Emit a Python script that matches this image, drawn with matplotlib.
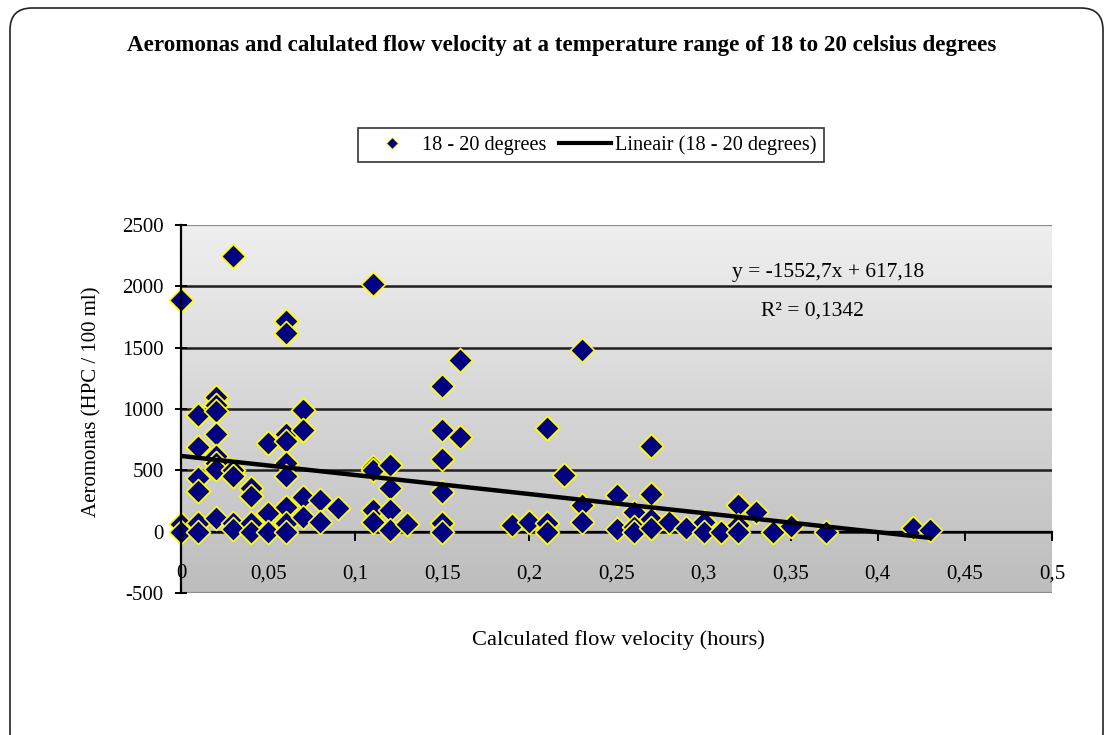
import matplotlib
matplotlib.use("Agg")
import matplotlib.pyplot as plt
import numpy as np
from matplotlib.lines import Line2D
from matplotlib.patches import FancyBboxPatch
from matplotlib.transforms import IdentityTransform

# Calculated flow velocity (hours) vs Aeromonas (HPC / 100 ml)
flow_velocity = [
    0, 0, 0,
    0.01, 0.01, 0.01, 0.01, 0.01, 0.01,
    0.02, 0.02, 0.02, 0.02, 0.02, 0.02, 0.02, 0.02,
    0.03, 0.03, 0.03, 0.03, 0.03,
    0.04, 0.04, 0.04, 0.04,
    0.05, 0.05, 0.05,
    0.06, 0.06, 0.06, 0.06, 0.06, 0.06, 0.06, 0.06, 0.06,
    0.07, 0.07, 0.07, 0.07,
    0.08, 0.08,
    0.09,
    0.11, 0.11, 0.11, 0.11, 0.11,
    0.12, 0.12, 0.12, 0.12,
    0.13,
    0.15, 0.15, 0.15, 0.15, 0.15, 0.15,
    0.16, 0.16,
    0.19, 0.20,
    0.21, 0.21, 0.21,
    0.22,
    0.23, 0.23, 0.23,
    0.25, 0.25,
    0.26, 0.26, 0.26,
    0.27, 0.27, 0.27, 0.27,
    0.28, 0.29,
    0.30, 0.30,
    0.31,
    0.32, 0.32, 0.32,
    0.33, 0.34, 0.35, 0.37, 0.42, 0.43,
]
aeromonas = [
    1890, 60, 0,
    950, 690, 440, 330, 70, 0,
    1100, 1030, 980, 800, 620, 560, 510, 110,
    2250, 500, 450, 70, 20,
    360, 290, 70, 0,
    720, 150, 0,
    1720, 1620, 800, 740, 560, 450, 200, 70, 0,
    990, 830, 280, 120,
    260, 80,
    195,
    2020, 530, 500, 180, 80,
    540, 360, 180, 10,
    60,
    1190, 830, 590, 320, 70, 0,
    1400, 775,
    55, 80,
    845, 70, 0,
    460,
    1480, 220, 75,
    300, 20,
    160, 40, 0,
    700, 310, 100, 33,
    80, 30,
    80, 0,
    0,
    220, 57, 0,
    160, 0, 50, 0, 30, 15,
]

# linear trendline as printed on the chart
slope = -1552.7
intercept = 617.18
r_squared = 0.1342

x_ticks = [0, 0.05, 0.1, 0.15, 0.2, 0.25, 0.3, 0.35, 0.4, 0.45, 0.5]
x_tick_labels = ["0", "0,05", "0,1", "0,15", "0,2", "0,25", "0,3", "0,35", "0,4", "0,45", "0,5"]
y_ticks = [-500, 0, 500, 1000, 1500, 2000, 2500]

plt.rcParams["font.family"] = ["Liberation Serif", "DejaVu Serif"]

W, H = 1109, 735
fig = plt.figure(figsize=(W / 100, H / 100), dpi=100)
fig.patch.set_facecolor("white")

# plot area in pixels: x 181..1052, y 225..593
ax = fig.add_axes([181 / W, 1 - 593 / H, 871 / W, 368 / H])

# grey gradient background, light on top
grad = np.linspace(0, 1, 256).reshape(-1, 1)
cmap = matplotlib.colors.LinearSegmentedColormap.from_list("bg", ["#efefef", "#bdbdbd"])
ax.imshow(grad, cmap=cmap, extent=[0, 0.5, -500, 2500], origin="upper", aspect="auto",
          zorder=0, interpolation="bicubic")
ax.set_xlim(0, 0.5)
ax.set_ylim(-500, 2500)

for yv in y_ticks:
    if yv in (y_ticks[0], y_ticks[-1]):
        ax.axhline(yv, color="#8c8c8c", lw=1.6, zorder=1)
    else:
        ax.axhline(yv, color="#1e1e1e", lw=1.8, zorder=1)

ax.scatter(flow_velocity, aeromonas, marker="D", s=150, facecolor="#000080",
           edgecolor="#ffff00", linewidths=1.2, zorder=3, clip_on=False)

x_line = np.array([min(flow_velocity), max(flow_velocity)])
ax.plot(x_line, slope * x_line + intercept, color="black", lw=3.2, zorder=4)

for side in ("top", "right"):
    ax.spines[side].set_visible(False)
ax.spines["left"].set_linewidth(1.6)
ax.spines["left"].set_zorder(5)
ax.spines["bottom"].set_position(("data", 0))
ax.spines["bottom"].set_linewidth(1.6)

ax.set_xticks(x_ticks)
ax.set_xticklabels(x_tick_labels)
ax.set_yticks(y_ticks)
ax.set_yticklabels([str(v) for v in y_ticks])
ax.tick_params(axis="x", direction="out", length=6.5, width=1.4, pad=17, labelsize=15)
ax.tick_params(axis="y", direction="inout", length=9, width=1.4, pad=8, labelsize=15)

fig.text(562 / W, 1 - 46 / H,
         "Aeromonas and calulated flow velocity at a temperature range of 18 to 20 celsius degrees",
         ha="center", va="center", fontsize=16.6, fontweight="bold")
fig.text(618 / W, 1 - 640 / H, "Calculated flow velocity (hours)",
         ha="center", va="center", fontsize=16.2)
fig.text(92 / W, 1 - 402 / H, "Aeromonas (HPC / 100 ml)",
         ha="center", va="center", rotation=90, fontsize=15)

fig.text(828 / W, 1 - 273 / H,
         f"y = {slope}x + {intercept}".replace(".", ","),
         ha="center", va="center", fontsize=15.5)
fig.text(812 / W, 1 - 311 / H, f"R² = {r_squared}".replace(".", ","),
         ha="center", va="center", fontsize=15.5)

handles = [
    Line2D([], [], linestyle="none", marker="D", markersize=6, markerfacecolor="#000080",
           markeredgecolor="#ffff00", markeredgewidth=0.8),
    Line2D([], [], color="black", lw=3),
]
leg = fig.legend(handles, ["18 - 20 degrees", "Lineair (18 - 20 degrees)"],
                 loc="center", bbox_to_anchor=(591 / W, 1 - 145 / H), ncol=2,
                 fontsize=14.6, frameon=True, fancybox=False, edgecolor="black",
                 handlelength=2.6, handletextpad=0.2, columnspacing=0.6,
                 borderpad=0.35)
leg.get_frame().set_linewidth(1.2)

frame = FancyBboxPatch((10, -20), 1093, 747, boxstyle="round,pad=0,rounding_size=22",
                       transform=IdentityTransform(), fill=False, edgecolor="#222222",
                       lw=1.2)
fig.add_artist(frame)

fig.savefig("out.png", dpi=100)
